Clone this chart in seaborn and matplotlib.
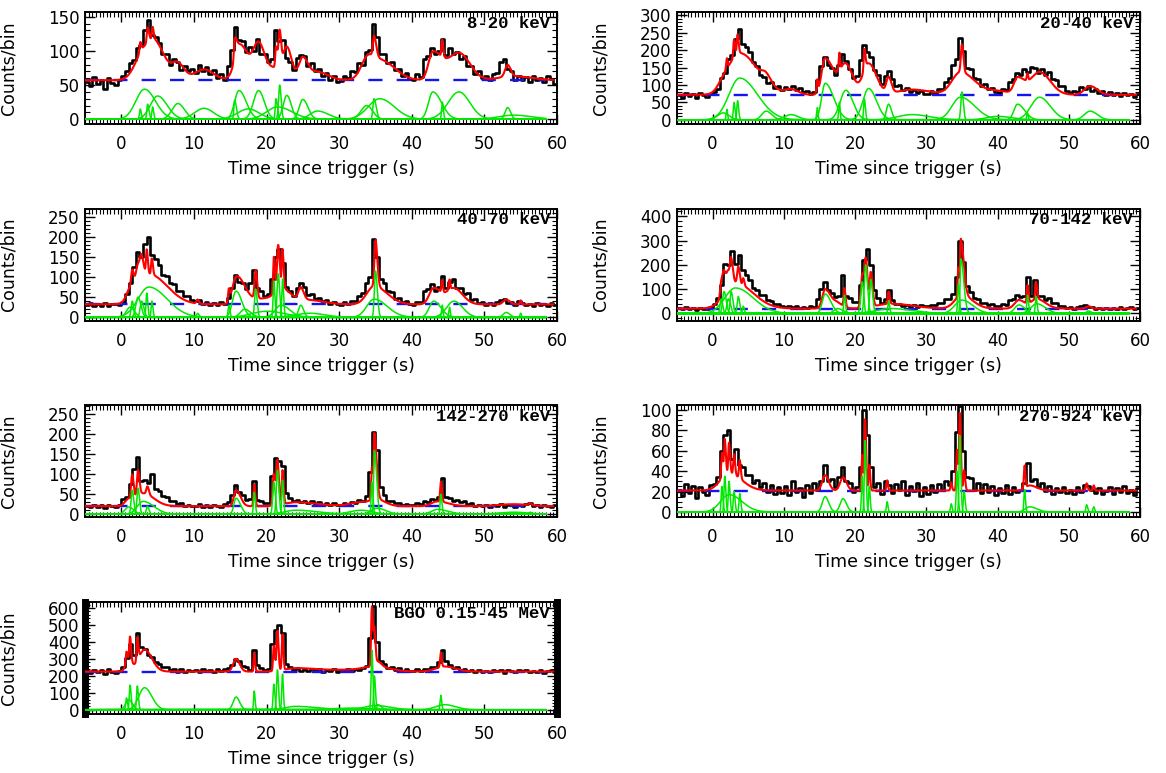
import numpy as np
import pandas as pd
import matplotlib
matplotlib.use("Agg")
import matplotlib.pyplot as plt
import seaborn as sns
from matplotlib.ticker import MultipleLocator

sns.set_theme(style="ticks")
plt.rcParams["font.family"] = ["DejaVu Sans"]
plt.rcParams["text.color"] = "black"
plt.rcParams["axes.labelcolor"] = "black"

# ---------------------------------------------------------------------------
# Light curves: counts per 0.5 s bin, from -5 s to 60 s after trigger
# ---------------------------------------------------------------------------
T_START = -5.0
BIN_WIDTH = 0.5

counts_8_20 = [
    55, 48, 62, 51, 58, 44, 60, 53, 50, 57,
    63, 70, 82, 86, 104, 108, 131, 145, 124, 121,
    112, 96, 95, 80, 88, 84, 72, 78, 70, 74,
    68, 80, 71, 77, 66, 72, 61, 66, 58, 78,
    102, 135, 116, 114, 98, 106, 100, 118, 96, 95,
    84, 88, 130, 114, 116, 90, 84, 72, 90, 94,
    92, 78, 82, 70, 74, 63, 68, 57, 64, 55,
    56, 63, 60, 70, 69, 82, 80, 98, 102, 140,
    120, 96, 95, 82, 84, 72, 74, 64, 68, 59,
    58, 66, 62, 88, 92, 105, 96, 100, 118, 94,
    104, 95, 98, 88, 92, 78, 78, 66, 70, 60,
    64, 58, 66, 68, 84, 88, 74, 71, 58, 63,
    57, 62, 55, 64, 58, 60, 54, 63, 59, 52]

counts_20_40 = [
    70, 64, 78, 68, 74, 62, 76, 70, 66, 74,
    80, 88, 120, 136, 176, 185, 232, 262, 218, 210,
    195, 165, 156, 130, 124, 106, 108, 92, 96, 86,
    94, 88, 98, 86, 92, 80, 84, 74, 80, 115,
    155, 182, 158, 150, 128, 158, 190, 168, 146, 120,
    125, 172, 215, 196, 180, 144, 130, 104, 126, 140,
    118, 96, 100, 86, 92, 80, 86, 76, 84, 74,
    74, 82, 76, 90, 88, 110, 120, 158, 176, 236,
    198, 150, 146, 120, 116, 98, 102, 88, 92, 80,
    78, 88, 86, 110, 116, 135, 128, 145, 138, 152,
    148, 134, 145, 130, 138, 116, 114, 96, 96, 82,
    78, 84, 80, 94, 88, 98, 84, 88, 76, 82,
    72, 80, 70, 77, 68, 76, 70, 74, 66, 75]

counts_40_70 = [
    30, 36, 27, 33, 29, 35, 28, 32, 34, 30,
    38, 58, 84, 125, 162, 150, 182, 200, 155, 145,
    130, 106, 102, 84, 82, 66, 65, 52, 54, 42,
    40, 44, 34, 38, 30, 36, 31, 37, 33, 48,
    72, 106, 88, 86, 70, 84, 118, 72, 66, 54,
    58, 96, 150, 170, 135, 76, 66, 54, 72, 84,
    74, 56, 58, 46, 48, 40, 44, 34, 38, 33,
    31, 37, 33, 40, 40, 54, 60, 84, 100, 195,
    150, 96, 84, 64, 62, 46, 48, 38, 40, 33,
    31, 38, 38, 66, 70, 82, 66, 76, 102, 72,
    88, 94, 72, 72, 58, 60, 44, 45, 36, 37,
    30, 36, 31, 38, 42, 45, 36, 38, 31, 40,
    36, 30, 34, 29, 35, 31, 33, 28, 35, 31]

counts_70_142 = [
    22, 17, 25, 19, 23, 16, 24, 20, 18, 26,
    38, 64, 118, 205, 200, 258, 205, 240, 178, 158,
    136, 104, 98, 78, 74, 56, 52, 40, 38, 30,
    26, 32, 25, 29, 23, 28, 24, 30, 28, 60,
    100, 130, 96, 84, 66, 70, 160, 72, 62, 46,
    48, 118, 220, 265, 200, 96, 62, 44, 58, 95,
    54, 38, 40, 30, 35, 28, 33, 27, 34, 29,
    30, 36, 33, 42, 44, 60, 60, 80, 150, 300,
    210, 115, 90, 64, 60, 44, 45, 36, 38, 31,
    30, 37, 36, 54, 60, 78, 66, 70, 150, 72,
    138, 72, 70, 55, 62, 44, 42, 30, 31, 22,
    26, 20, 25, 30, 36, 26, 26, 20, 24, 19,
    24, 18, 23, 20, 26, 17, 22, 25, 19, 23]

counts_142_270 = [
    21, 17, 24, 19, 22, 16, 23, 20, 18, 24,
    38, 44, 76, 112, 142, 82, 86, 78, 100, 62,
    58, 46, 43, 32, 32, 25, 27, 21, 24, 20,
    20, 25, 19, 23, 18, 24, 21, 19, 25, 30,
    48, 74, 56, 48, 36, 38, 82, 36, 34, 28,
    27, 96, 140, 132, 120, 52, 40, 32, 36, 30,
    34, 28, 32, 26, 30, 24, 28, 23, 27, 22,
    22, 27, 24, 30, 28, 36, 34, 46, 105, 205,
    160, 68, 48, 34, 34, 27, 29, 23, 26, 22,
    22, 27, 25, 32, 31, 38, 36, 44, 90, 42,
    40, 34, 36, 30, 32, 25, 27, 21, 24, 20,
    23, 19, 24, 21, 25, 18, 22, 24, 19, 23,
    21, 25, 28, 20, 23, 18, 24, 21, 19, 22]

counts_270_524 = [
    22, 16, 27, 19, 25, 14, 24, 20, 17, 26,
    27, 34, 60, 76, 80, 52, 62, 46, 44, 36,
    36, 28, 31, 24, 28, 20, 26, 18, 24, 19,
    25, 17, 30, 20, 23, 15, 26, 19, 28, 22,
    30, 46, 30, 32, 24, 34, 44, 30, 28, 20,
    24, 44, 100, 76, 44, 24, 28, 18, 30, 26,
    19, 27, 22, 30, 17, 25, 21, 28, 16, 24,
    18, 26, 20, 27, 22, 30, 26, 40, 78, 104,
    60, 34, 33, 22, 28, 19, 27, 20, 25, 17,
    23, 19, 26, 18, 24, 20, 22, 28, 48, 30,
    32, 24, 28, 21, 25, 18, 23, 20, 24, 19,
    22, 18, 24, 20, 26, 25, 22, 19, 23, 18,
    21, 24, 18, 23, 20, 25, 19, 22, 17, 23]

counts_bgo = [
    228, 215, 235, 220, 232, 210, 238, 222, 218, 230,
    250, 305, 385, 325, 450, 372, 360, 325, 310, 280,
    270, 250, 252, 232, 240, 225, 238, 222, 236, 226,
    234, 222, 240, 228, 236, 220, 242, 230, 238, 245,
    265, 300, 290, 258, 250, 236, 355, 262, 246, 232,
    238, 390, 470, 500, 455, 268, 250, 234, 244, 230,
    242, 228, 240, 226, 238, 222, 236, 228, 240, 224,
    236, 228, 242, 230, 238, 232, 246, 255, 420, 610,
    400, 285, 268, 246, 252, 236, 244, 230, 238, 228,
    226, 238, 230, 240, 238, 250, 252, 280, 350, 290,
    266, 248, 250, 236, 240, 226, 235, 224, 232, 222,
    230, 222, 236, 226, 232, 218, 234, 228, 224, 232,
    226, 234, 220, 230, 224, 236, 218, 228, 232, 222]

# Fitted background level of each channel
backgrounds = [57, 72, 32, 20, 20, 21, 225]

# Fitted pulse components: (peak time s, amplitude, rise width s, decay width s)
pulses_8_20 = [
    (3.2, 44, 1.2, 1.5), (5.0, 34, 1.0, 1.3), (7.8, 23, 0.8, 0.9), (11.4, 16, 1.3, 1.3),
    (2.6, 15, 0.1, 0.15), (3.6, 22, 0.1, 0.2), (4.3, 18, 0.1, 0.15),
    (15.6, 28, 0.1, 0.25), (16.2, 42, 0.6, 1.0), (17.5, 15, 1.5, 1.5), (18.9, 42, 0.7, 0.8),
    (21.3, 30, 0.1, 0.2), (21.5, 18, 1.5, 2.0), (21.8, 50, 0.15, 0.2), (22.8, 35, 0.5, 0.6),
    (25.0, 29, 0.5, 0.7), (27.0, 12, 1.0, 1.5),
    (33.8, 20, 0.8, 0.8), (34.8, 30, 0.15, 0.3), (35.6, 30, 1.6, 2.0),
    (42.9, 40, 0.6, 1.2), (44.2, 25, 0.1, 0.15), (46.5, 40, 1.5, 1.5),
    (53.2, 17, 0.35, 0.4), (54.0, 6, 2.0, 2.5)]

pulses_20_40 = [
    (1.5, 20, 0.8, 0.8), (2.0, 30, 0.1, 0.1), (3.0, 50, 0.1, 0.15), (3.5, 55, 0.1, 0.15),
    (3.8, 120, 1.5, 2.5), (7.5, 25, 0.6, 0.8), (11.0, 15, 0.9, 1.0),
    (14.7, 35, 0.1, 0.1), (15.8, 105, 0.5, 1.2), (17.8, 50, 0.1, 0.1), (18.7, 85, 0.8, 1.0),
    (21.3, 60, 0.1, 0.15), (21.9, 90, 0.8, 1.1), (24.7, 45, 0.3, 0.4), (28.0, 15, 2.0, 2.5),
    (34.8, 65, 1.2, 2.0), (35.0, 80, 0.15, 0.2), (40.0, 10, 1.5, 2.0),
    (42.8, 45, 0.5, 1.0), (44.2, 20, 0.1, 0.1), (45.9, 65, 1.2, 1.5), (53.0, 25, 0.8, 1.0)]

pulses_40_70 = [
    (1.2, 25, 0.5, 0.6), (1.5, 40, 0.15, 0.2), (2.3, 50, 0.3, 0.4), (2.8, 40, 0.2, 0.3),
    (3.5, 60, 0.1, 0.15), (3.8, 75, 1.5, 2.5), (4.2, 40, 0.1, 0.15), (10.5, 10, 0.15, 0.2),
    (14.8, 30, 0.1, 0.15), (15.8, 65, 0.5, 0.8), (17.0, 20, 0.6, 0.8), (18.5, 70, 0.15, 0.2),
    (20.0, 15, 2.0, 2.5), (21.0, 90, 0.1, 0.15), (21.6, 108, 0.15, 0.2), (22.0, 30, 0.8, 1.2),
    (22.2, 95, 0.1, 0.15), (24.7, 30, 0.3, 0.4), (26.0, 10, 2.0, 2.0),
    (34.8, 45, 1.0, 1.8), (35.0, 115, 0.15, 0.25),
    (43.0, 40, 0.6, 1.0), (44.2, 30, 0.1, 0.1), (45.2, 25, 0.1, 0.1), (45.8, 40, 1.0, 1.2),
    (53.0, 12, 0.4, 0.5), (55.0, 10, 0.1, 0.1)]

pulses_70_142 = [
    (1.2, 60, 0.15, 0.2), (1.6, 90, 0.2, 0.3), (2.2, 60, 0.2, 0.3), (2.6, 90, 0.15, 0.25),
    (3.2, 105, 1.5, 2.5), (3.6, 70, 0.15, 0.2), (4.3, 30, 0.1, 0.15),
    (15.8, 80, 0.4, 0.8), (17.5, 20, 0.5, 0.8), (18.5, 75, 0.1, 0.15),
    (21.0, 130, 0.2, 0.2), (21.5, 200, 0.2, 0.25), (22.2, 140, 0.15, 0.25),
    (24.7, 50, 0.1, 0.15), (25.0, 20, 2.0, 3.0),
    (34.5, 120, 0.1, 0.15), (34.85, 225, 0.1, 0.4), (35.0, 55, 1.0, 1.5),
    (43.0, 35, 0.6, 0.8), (44.2, 75, 0.1, 0.15), (45.4, 70, 0.1, 0.15), (45.5, 40, 0.8, 1.2),
    (52.8, 10, 0.3, 0.3)]

pulses_142_270 = [
    (1.0, 18, 0.5, 0.7), (1.5, 60, 0.15, 0.2), (2.3, 65, 0.15, 0.2), (3.0, 32, 0.8, 1.5),
    (3.6, 20, 0.15, 0.2), (15.8, 40, 0.3, 0.6), (18.3, 55, 0.1, 0.15),
    (21.0, 80, 0.15, 0.2), (21.5, 110, 0.15, 0.2), (22.2, 85, 0.1, 0.15), (24.0, 10, 1.5, 3.0),
    (33.0, 10, 1.5, 1.5), (34.5, 80, 0.1, 0.15), (34.85, 160, 0.1, 0.3), (35.2, 15, 0.8, 1.2),
    (43.5, 12, 0.8, 1.5), (44.0, 50, 0.1, 0.15), (54.0, 5, 2.0, 2.0), (56.3, 5, 0.2, 0.2)]

pulses_270_524 = [
    (1.3, 25, 0.1, 0.15), (1.7, 35, 0.1, 0.15), (2.3, 17, 1.2, 1.8), (2.3, 30, 0.1, 0.15),
    (3.0, 20, 0.1, 0.15), (3.8, 18, 0.1, 0.15),
    (15.8, 15, 0.4, 0.5), (18.3, 13, 0.4, 0.5),
    (21.0, 35, 0.1, 0.12), (21.4, 70, 0.1, 0.15), (22.0, 25, 0.1, 0.12), (24.5, 10, 0.1, 0.12),
    (33.5, 8, 0.1, 0.12), (34.3, 40, 0.1, 0.15), (34.7, 75, 0.1, 0.15), (35.3, 20, 0.1, 0.15),
    (43.8, 22, 0.1, 0.12), (44.5, 5, 0.6, 1.0), (52.5, 7, 0.1, 0.15), (53.5, 5, 0.1, 0.12)]

pulses_bgo = [
    (0.7, 70, 0.1, 0.15), (1.0, 60, 0.4, 0.5), (1.2, 145, 0.1, 0.15), (2.2, 140, 0.1, 0.15),
    (3.2, 130, 0.8, 1.0), (15.8, 75, 0.4, 0.5), (18.3, 110, 0.08, 0.12),
    (21.0, 150, 0.1, 0.15), (21.5, 235, 0.12, 0.15), (22.2, 210, 0.1, 0.12), (24.0, 20, 1.5, 3.0),
    (32.0, 10, 3.0, 3.0), (34.5, 350, 0.1, 0.15), (34.85, 200, 0.1, 0.15),
    (35.0, 25, 1.5, 2.0), (35.3, 30, 0.3, 0.5), (44.0, 85, 0.1, 0.12), (44.5, 30, 1.2, 1.5)]

channel_labels = ["8-20 keV", "20-40 keV", "40-70 keV", "70-142 keV",
                  "142-270 keV", "270-524 keV", "BGO 0.15-45 MeV"]
channel_counts = [counts_8_20, counts_20_40, counts_40_70, counts_70_142,
                  counts_142_270, counts_270_524, counts_bgo]
channel_pulses = [pulses_8_20, pulses_20_40, pulses_40_70, pulses_70_142,
                  pulses_142_270, pulses_270_524, pulses_bgo]

# Axis settings per panel: y limits, major and minor tick steps
y_limits = [(-7, 157), (-12, 310), (-8, 270), (-29, 432), (-7, 273), (-5, 105), (-25, 635)]
y_major = [50, 50, 50, 100, 50, 20, 100]
y_minor = [10, 10, 10, 20, 10, 5, 20]


def pulse_profile(t, tp, amp, rise, decay):
    width = np.where(t < tp, rise, decay)
    return amp * np.exp(-0.5 * ((t - tp) / width) ** 2)


W, H = 1166, 773
fig = plt.figure(figsize=(W / 100, H / 100), dpi=100)

col_left = [85, 677]
col_width = [472, 463]
row_top = [12, 208.5, 405, 602]
panel_h = 112

t_model = np.arange(-5.0, 59.5, 0.02)
t_comp = np.arange(-5.0, 58.5, 0.02)

for i, label in enumerate(channel_labels):
    row, col = divmod(i, 2)
    rect = [col_left[col] / W, 1 - (row_top[row] + panel_h) / H,
            col_width[col] / W, panel_h / H]
    ax = fig.add_axes(rect)

    counts = np.asarray(channel_counts[i], dtype=float)
    edges = T_START + BIN_WIDTH * np.arange(len(counts) + 1)
    bg = backgrounds[i]

    # observed counts
    sns.lineplot(x=edges, y=np.append(counts, counts[-1]), drawstyle="steps-post",
                 color="black", lw=1.9, estimator=None, errorbar=None, ax=ax, zorder=2)

    # background level
    ax.axhline(bg, xmin=0, xmax=(58.5 + 5) / 65, color="#1414f0", lw=1.7,
               ls=(0, (6, 6)), zorder=3)

    # pulse components and total model
    comps = []
    model = np.full_like(t_model, bg, dtype=float)
    for k, (tp, amp, rise, decay) in enumerate(channel_pulses[i]):
        model += pulse_profile(t_model, tp, amp, rise, decay)
        comps.append(pd.DataFrame({"t": t_comp,
                                   "v": pulse_profile(t_comp, tp, amp, rise, decay),
                                   "k": k}))
    comp_df = pd.concat(comps, ignore_index=True)

    sns.lineplot(x=t_model, y=model, color="#ff0000", lw=1.5,
                 estimator=None, errorbar=None, ax=ax, zorder=4)
    sns.lineplot(data=comp_df, x="t", y="v", units="k", estimator=None,
                 color="#00e800", lw=1.1, ax=ax, legend=False, sort=False, zorder=5)

    ax.set_xlim(-5, 60)
    ax.set_ylim(*y_limits[i])
    ax.xaxis.set_major_locator(MultipleLocator(10))
    ax.xaxis.set_minor_locator(MultipleLocator(0.5))
    ax.yaxis.set_major_locator(MultipleLocator(y_major[i]))
    ax.yaxis.set_minor_locator(MultipleLocator(y_minor[i]))
    ax.tick_params(which="both", direction="in", top=True, right=True,
                   labelsize=12, colors="black")
    ax.tick_params(which="major", length=7, width=1.0, pad=4)
    ax.tick_params(axis="x", which="major", pad=8)
    ax.tick_params(which="minor", length=3.5, width=0.8)
    for sp in ax.spines.values():
        sp.set_linewidth(1.4)
        sp.set_color("black")
    if i == 6:
        ax.spines["left"].set_linewidth(5)
        ax.spines["right"].set_linewidth(5)

    ax.set_xlabel("Time since trigger (s)", fontsize=12.5, labelpad=5, color="black")
    ax.set_ylabel("Counts/bin", fontsize=12.5, color="black")
    ax.yaxis.set_label_coords(-67 / col_width[col], 0.5)

    ax.text(0.985, 0.9, label, transform=ax.transAxes, ha="right", va="center",
            fontsize=12.5, fontweight="bold", color="black",
            family=["Liberation Mono", "DejaVu Sans Mono"], zorder=6)

fig.savefig("out.png", dpi=100)
